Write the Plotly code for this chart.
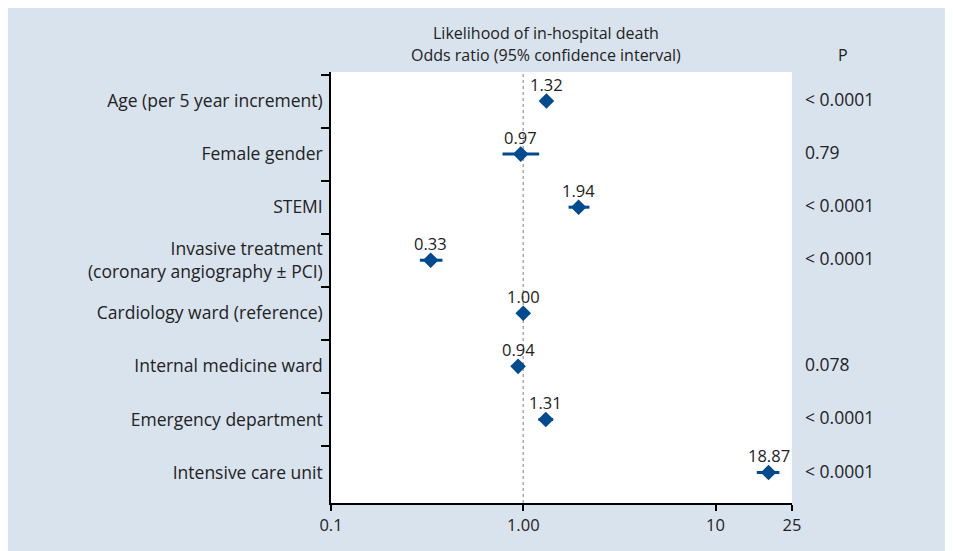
import math
import plotly.graph_objects as go

categories = [
    "Age (per 5 year increment)",
    "Female gender",
    "STEMI",
    "Invasive treatment<br>(coronary angiography ± PCI)",
    "Cardiology ward (reference)",
    "Internal medicine ward",
    "Emergency department",
    "Intensive care unit",
]
odds_ratio = [1.32, 0.97, 1.94, 0.33, 1.00, 0.94, 1.31, 18.87]
ci_low = [1.29, 0.78, 1.72, 0.29, 1.00, 0.89, 1.20, 16.4]
ci_high = [1.35, 1.21, 2.21, 0.38, 1.00, 0.99, 1.43, 21.5]
or_labels = ["1.32", "0.97", "1.94", "0.33", "1.00", "0.94", "1.31", "18.87"]
p_values = ["< 0.0001", "0.79", "< 0.0001", "< 0.0001", "", "0.078", "< 0.0001", "< 0.0001"]
x_tickvals = [0.1, 1, 10, 25]
x_ticktext = ["0.1", "1.00", "10", "25"]
x_range = [0.1, 25]

BG = "#d9e3ed"
MARK = "#004a90"
TXT = "#222222"
FONT = "Open Sans"

err_plus = [h - o for h, o in zip(ci_high, odds_ratio)]
err_minus = [o - l for o, l in zip(odds_ratio, ci_low)]

fig = go.Figure()
fig.add_trace(go.Scatter(
    x=odds_ratio, y=categories,
    mode="markers",
    marker=dict(symbol="diamond", size=12, color=MARK),
    error_x=dict(type="data", symmetric=False, array=err_plus, arrayminus=err_minus,
                 thickness=3, width=0, color=MARK),
    hoverinfo="skip", showlegend=False, cliponaxis=False,
))

# value labels just above each marker (annotation x on a log axis is log10 of the value)
for cat, val, lab in zip(categories, odds_ratio, or_labels):
    fig.add_annotation(xref="x", yref="y", x=math.log10(val), y=cat, text=lab,
                       showarrow=False, xanchor="center", yanchor="middle", yshift=17,
                       font=dict(size=16.5, color=TXT, family=FONT))

lo, hi = math.log10(x_range[0]), math.log10(x_range[1])
ref_px = (math.log10(1) - lo) / (hi - lo)
fig.add_shape(type="line", xref="paper", yref="paper", x0=ref_px, x1=ref_px, y0=0, y1=1,
              line=dict(color="#aaaaaa", width=1.5, dash="dot"), layer="below")

for i, p in enumerate(p_values):
    if p:
        fig.add_annotation(xref="paper", yref="y", x=1.024, y=categories[i], text=p,
                           showarrow=False, xanchor="left", yanchor="middle", yshift=2,
                           font=dict(size=17.5, color=TXT, family=FONT))

fig.add_annotation(xref="paper", yref="paper", x=0.466, y=1.0905,
                   text="Likelihood of in-hospital death", showarrow=False,
                   xanchor="center", yanchor="middle", font=dict(size=16, color=TXT, family=FONT))
fig.add_annotation(xref="paper", yref="paper", x=0.466, y=1.039,
                   text="Odds ratio (95% confidence interval)", showarrow=False,
                   xanchor="center", yanchor="middle", font=dict(size=16, color=TXT, family=FONT))
fig.add_annotation(xref="paper", yref="paper", x=1.111, y=1.039, text="P", showarrow=False,
                   xanchor="center", yanchor="middle", font=dict(size=16, color=TXT, family=FONT))

fig.update_layout(
    width=945, height=543, autosize=False,
    margin=dict(l=323, r=161, t=64, b=48),
    paper_bgcolor=BG, plot_bgcolor="white",
    font=dict(family=FONT, size=16, color=TXT),
    xaxis=dict(type="log", range=[lo, hi], tickvals=x_tickvals, ticktext=x_ticktext,
               showgrid=False, zeroline=False, showline=True, linecolor="black", linewidth=1.5,
               ticks="outside", ticklen=6, tickwidth=1.5, tickcolor="black",
               tickfont=dict(size=16.5, color=TXT)),
    yaxis=dict(type="category", categoryorder="array", categoryarray=categories,
               autorange="reversed", showgrid=False, zeroline=False,
               showline=True, linecolor="black", linewidth=1.5,
               ticks="outside", tickson="boundaries", ticklen=8, tickwidth=1.5, tickcolor="black",
               ticklabelstandoff=3,
               tickfont=dict(size=17.5, color=TXT)),
)

fig.write_html("out.html")
